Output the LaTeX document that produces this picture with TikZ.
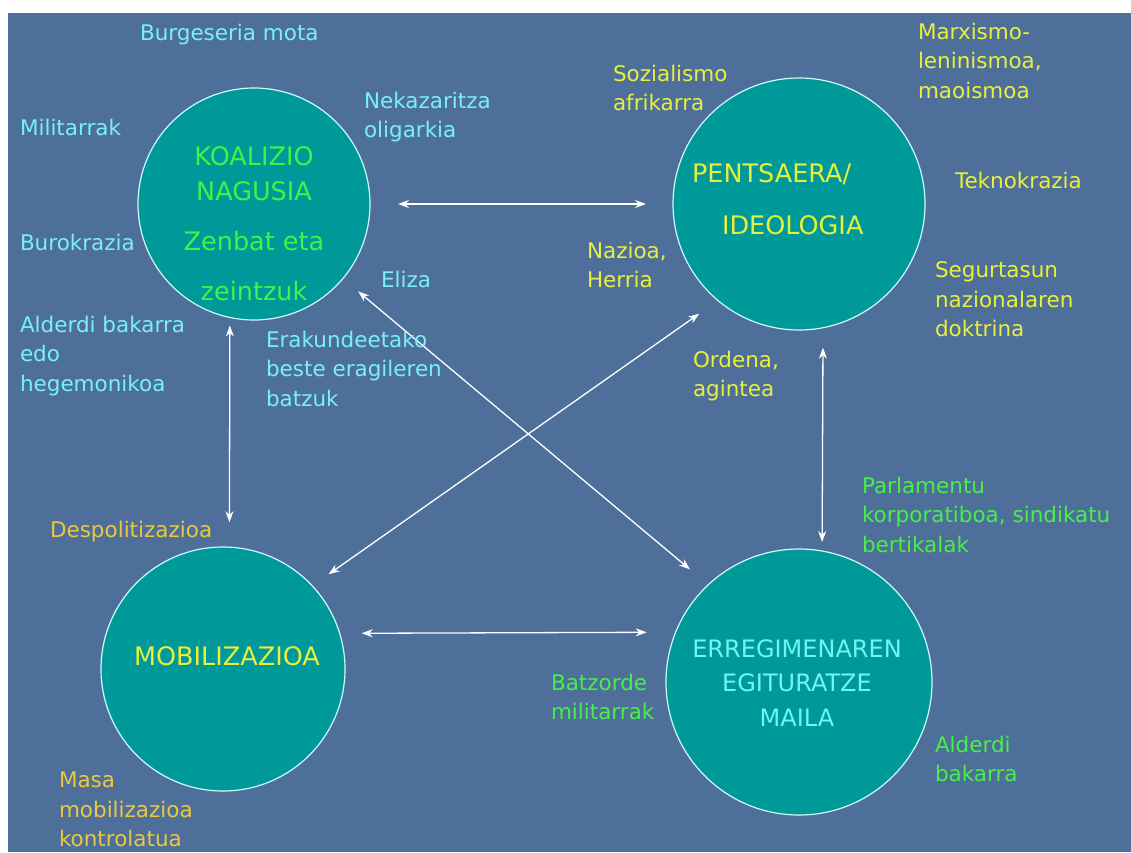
\documentclass[tikz,border=0pt]{standalone}
\usepackage{fontspec}
\setmainfont{DejaVu Sans}
\usetikzlibrary{arrows.meta,positioning}
\definecolor{slideblue}{RGB}{78,111,154}
\definecolor{circfill}{RGB}{0,153,153}
\definecolor{circline}{RGB}{205,250,250}
\definecolor{lblcyan}{RGB}{120,240,250}
\definecolor{lblyellow}{RGB}{232,240,60}
\definecolor{lblgold}{RGB}{236,200,64}
\definecolor{lblgreen}{RGB}{70,240,70}
\definecolor{titlecyan}{RGB}{110,245,245}

\begin{document}
\begin{tikzpicture}
    [x=1pt, y=-1pt,
    every node/.style={inner sep=0pt, outer sep=0pt},
    bigcircle/.style={circle, draw=circline, line width=1.2pt, fill=circfill},
    labeltext/.style={anchor=north west, align=left, font=\fontsize{21.5}{29.5}\selectfont},
    titletext/.style={anchor=north, align=center, font=\fontsize{25.5}{35}\selectfont},
    link/.style={draw=white, line width=1.3pt,
      {Stealth[length=11pt,width=8pt]}-{Stealth[length=11pt,width=8pt]}}]
  \useasboundingbox (0,0) rectangle (1131,852);
  \fill[white] (0,0) rectangle (1131,852);
  \fill[slideblue] (8,13) rectangle (1131,852);

  % the four circles
  \node[bigcircle, minimum size=232pt] (koalizio) at (254,204) {};
  \node[bigcircle, minimum size=252pt] (pentsaera) at (799,204) {};
  \node[bigcircle, minimum size=244pt] (mobilizazioa) at (223,669) {};
  \node[bigcircle, minimum size=266pt] (erregimena) at (799,682) {};

  \node[titletext, text=lblgreen] (koaltxt) at (254,146.5)
    {KOALIZIO\\NAGUSIA\\[15pt]Zenbat eta\\[15pt]zeintzuk};
  \node[titletext, text=lblyellow, anchor=north west, align=left] (pentstxt) at (692,164)
    {PENTSAERA/\\[17pt]\hspace*{30pt}IDEOLOGIA};
  \node[titletext, text=lblyellow] (mobiltxt) at (227,646.4) {MOBILIZAZIOA};
  \node[titletext, text=titlecyan, font=\fontsize{24}{34.5}\selectfont] (erregtxt) at (797,639.5)
    {ERREGIMENAREN\\EGITURATZE\\MAILA};

  % links
  \draw[link, shorten <=28pt, shorten >=27pt] (koalizio) -- (pentsaera);
  \draw[link, shorten <=8pt, shorten >=25pt] (koalizio.-102) -- (mobilizazioa.87);
  \draw[link, shorten <=20pt, shorten >=9pt] (pentsaera.-79.5) -- (erregimena.80);
  \draw[link, shorten <=22pt, shorten >=29pt] (mobilizazioa.17.2) -- (erregimena.158.4);
  \draw[link, shorten <=20pt, shorten >=24pt] (koalizio.-40.8) -- (erregimena.133.7);
  \draw[link, shorten <=20pt, shorten >=23pt] (mobilizazioa.43) -- (pentsaera.-130.8);

  % labels round the coalition
  \node[labeltext, text=lblcyan] (burgeseria) at (140,24) {Burgeseria mota};
  \node[labeltext, text=lblcyan] (militarrak) at (20,119) {Militarrak};
  \node[labeltext, text=lblcyan] (nekazaritza) at (364,92) {Nekazaritza\\oligarkia};
  \node[labeltext, text=lblcyan] (burokrazia) at (20,234) {Burokrazia};
  \node[labeltext, text=lblcyan] (eliza) at (381,271) {Eliza};
  \node[labeltext, text=lblcyan] (alderdiedo) at (20,316) {Alderdi bakarra\\edo\\hegemonikoa};
  \node[labeltext, text=lblcyan] (erakundeak) at (266,331) {Erakundeetako\\beste eragileren\\batzuk};

  % labels round the ideology
  \node[labeltext, text=lblyellow] (sozialismo) at (613,65) {Sozialismo\\afrikarra};
  \node[labeltext, text=lblyellow] (marxismo) at (918,23) {Marxismo-\\leninismoa,\\maoismoa};
  \node[labeltext, text=lblyellow] (teknokrazia) at (955,172) {Teknokrazia};
  \node[labeltext, text=lblyellow] (nazioa) at (587,242) {Nazioa,\\Herria};
  \node[labeltext, text=lblyellow] (segurtasun) at (935,262) {Segurtasun\\nazionalaren\\doktrina};
  \node[labeltext, text=lblyellow] (ordena) at (693,351) {Ordena,\\agintea};

  % mobilisation
  \node[labeltext, text=lblgold] (despolitizazioa) at (50,521) {Despolitizazioa};
  \node[labeltext, text=lblgold] (masa) at (59,772) {Masa\\mobilizazioa\\kontrolatua};

  % regime structure
  \node[labeltext, text=lblgreen] (parlamentu) at (862,477) {Parlamentu\\korporatiboa, sindikatu\\bertikalak};
  \node[labeltext, text=lblgreen] (batzorde) at (551,674) {Batzorde\\militarrak};
  \node[labeltext, text=lblgreen] (alderdi) at (935,736) {Alderdi\\bakarra};
\end{tikzpicture}
\end{document}
